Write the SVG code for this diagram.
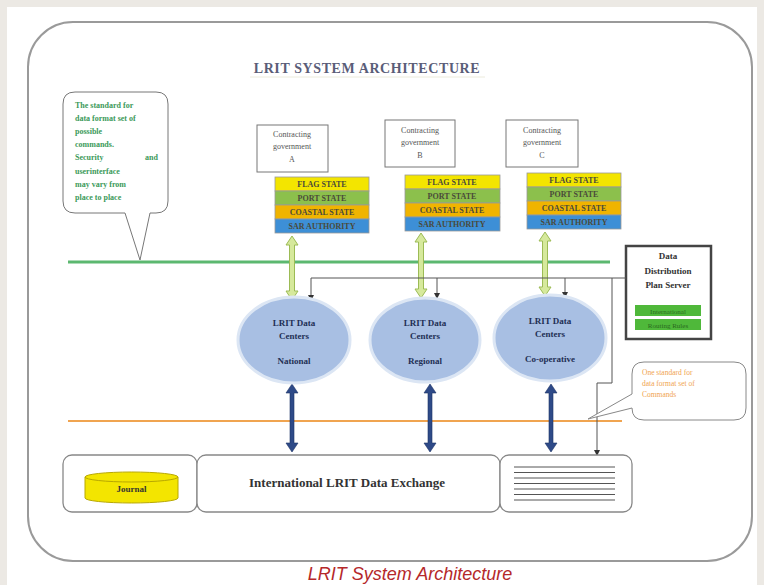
<svg xmlns="http://www.w3.org/2000/svg" width="764" height="585" viewBox="0 0 764 585">
<defs>
<marker id="ah" viewBox="0 0 6 6" refX="5" refY="3" markerWidth="6" markerHeight="6" orient="auto" markerUnits="userSpaceOnUse"><path d="M0,0 L6,3 L0,6 z" fill="#333"/></marker>
</defs>
<style>
.sf{font-family:"Liberation Serif","DejaVu Serif",serif}
.st{font-family:"Liberation Serif","DejaVu Serif",serif;font-size:8px;font-weight:bold;fill:#4a4a3a;text-anchor:middle}
.gov{fill:#fff;stroke:#777;stroke-width:1}
.govt{font-family:"Liberation Serif","DejaVu Serif",serif;font-size:8px;fill:#555;text-anchor:middle}
.row{stroke:#999;stroke-width:0.8}
.ell{fill:#a8bfe3;stroke:#dce6f4;stroke-width:3}
.et{font-family:"Liberation Serif","DejaVu Serif",serif;font-size:9px;font-weight:bold;fill:#1f2f55;text-anchor:middle}
.ga{fill:#d6e99c;stroke:#9cbb55;stroke-width:1}
.na{fill:#2e4a88;stroke:#1d3264;stroke-width:0.6}
.gl{fill:none;stroke:#555;stroke-width:1}
.box{fill:#fff;stroke:#888;stroke-width:1.3}
</style>
<rect width="764" height="585" fill="#ece9e4"/>
<rect x="7" y="7" width="750" height="578" fill="#fff"/>
<rect x="28" y="22" width="724" height="539" rx="45" fill="#fff" stroke="#9a9a9a" stroke-width="2"/>

<g id="title">
<text x="367" y="73" class="sf" font-size="14" font-weight="bold" letter-spacing="0.6" fill="#5a5d78" text-anchor="middle">LRIT SYSTEM ARCHITECTURE</text>
<line x1="250" y1="77" x2="485" y2="77" stroke="#ecebdc" stroke-width="1"/>
</g>

<g id="lines">
<line x1="68" y1="262" x2="610" y2="262" stroke="#5cb870" stroke-width="3"/>
<line x1="68" y1="421" x2="622" y2="421" stroke="#f0a450" stroke-width="2"/>
</g>

<g id="callout-green">
<path d="M75,92 H156 Q168,92 168,104 V201 Q168,213 156,213 H150 L140,260 L125,213 H75 Q63,213 63,201 V104 Q63,92 75,92 Z" fill="#fff" stroke="#777" stroke-width="1"/>
<g class="sf" font-size="8" font-weight="bold" fill="#3c9a5a">
<text x="75" y="108">The standard for</text>
<text x="75" y="121">data format set of</text>
<text x="75" y="134">possible</text>
<text x="75" y="147">commands.</text>
<text x="75" y="160">Security</text><text x="158" y="160" text-anchor="end">and</text>
<text x="75" y="174">userinterface</text>
<text x="75" y="187">may vary from</text>
<text x="75" y="200">place to place</text>
</g>
</g>

<g id="govA">
<rect class="gov" x="257" y="125" width="71" height="47"/>
<text class="govt" x="292" y="137">Contracting</text>
<text class="govt" x="292" y="149">government</text>
<text class="govt" x="292" y="162">A</text>
</g>
<g id="govB">
<rect class="gov" x="385" y="120" width="70" height="47"/>
<text class="govt" x="420" y="133">Contracting</text>
<text class="govt" x="420" y="145">government</text>
<text class="govt" x="420" y="158">B</text>
</g>
<g id="govC">
<rect class="gov" x="506" y="120" width="72" height="47"/>
<text class="govt" x="542" y="133">Contracting</text>
<text class="govt" x="542" y="145">government</text>
<text class="govt" x="542" y="158">C</text>
</g>

<g id="statesA">
<rect class="row" x="275" y="177" width="94" height="14" fill="#f3e500"/>
<rect class="row" x="275" y="191" width="94" height="14" fill="#8cc04c"/>
<rect class="row" x="275" y="205" width="94" height="14" fill="#f0b400"/>
<rect class="row" x="275" y="219" width="94" height="14" fill="#3d8fd6"/>
<text class="st" x="322" y="187">FLAG STATE</text>
<text class="st" x="322" y="201">PORT STATE</text>
<text class="st" x="322" y="215">COASTAL STATE</text>
<text class="st" x="322" y="229">SAR AUTHORITY</text>
</g>
<g id="statesB">
<rect class="row" x="405" y="175" width="95" height="14" fill="#f3e500"/>
<rect class="row" x="405" y="189" width="95" height="14" fill="#8cc04c"/>
<rect class="row" x="405" y="203" width="95" height="14" fill="#f0b400"/>
<rect class="row" x="405" y="217" width="95" height="14" fill="#3d8fd6"/>
<text class="st" x="452" y="185">FLAG STATE</text>
<text class="st" x="452" y="199">PORT STATE</text>
<text class="st" x="452" y="213">COASTAL STATE</text>
<text class="st" x="452" y="227">SAR AUTHORITY</text>
</g>
<g id="statesC">
<rect class="row" x="527" y="173" width="94" height="14" fill="#f3e500"/>
<rect class="row" x="527" y="187" width="94" height="14" fill="#8cc04c"/>
<rect class="row" x="527" y="201" width="94" height="14" fill="#f0b400"/>
<rect class="row" x="527" y="215" width="94" height="14" fill="#3d8fd6"/>
<text class="st" x="574" y="183">FLAG STATE</text>
<text class="st" x="574" y="197">PORT STATE</text>
<text class="st" x="574" y="211">COASTAL STATE</text>
<text class="st" x="574" y="225">SAR AUTHORITY</text>
</g>

<g id="ddps">
<rect x="626" y="246" width="85" height="93" fill="#fff" stroke="#444" stroke-width="2.5"/>
<g class="sf" font-size="9" font-weight="bold" fill="#333" text-anchor="middle">
<text x="668" y="259">Data</text>
<text x="668" y="274">Distribution</text>
<text x="668" y="288">Plan Server</text>
</g>
<rect x="635" y="305" width="66" height="11" fill="#4fb83a"/>
<rect x="635" y="319" width="66" height="11" fill="#4fb83a"/>
<text x="668" y="313.5" class="sf" font-size="7" fill="#2a6a20" text-anchor="middle">International</text>
<text x="668" y="327.5" class="sf" font-size="7" fill="#2a6a20" text-anchor="middle">Routing Rules</text>
</g>

<g id="connectors">
<polygon class="ga" points="292,236 298,245 294.5,245 294.5,291 298,291 292,300 286,291 289.5,291 289.5,245 286,245"/>
<polygon class="ga" points="421,233 427,242 423.5,242 423.5,289 427,289 421,298 415,289 418.5,289 418.5,242 415,242"/>
<polygon class="ga" points="545,232 551,241 547.5,241 547.5,287 551,287 545,296 539,287 542.5,287 542.5,241 539,241"/>
<polygon class="na" points="292,384 298,393 294,393 294,443 298,443 292,452 286,443 290,443 290,393 286,393"/>
<polygon class="na" points="430,384 436,393 432,393 432,443 436,443 430,452 424,443 428,443 428,393 424,393"/>
<polygon class="na" points="551,384 557,393 553,393 553,443 557,443 551,452 545,443 549,443 549,393 545,393"/>
<polyline class="gl" points="626,278 311,278 311,300" marker-end="url(#ah)"/>
<line class="gl" x1="437" y1="278" x2="437" y2="298" marker-end="url(#ah)"/>
<line class="gl" x1="565" y1="278" x2="565" y2="297" marker-end="url(#ah)"/>
<polyline class="gl" points="612,278 612,383 597,383 597,455" marker-end="url(#ah)"/>
</g>

<g id="national">
<ellipse class="ell" cx="294" cy="340" rx="56" ry="43"/>
<text class="et" x="294" y="326">LRIT Data</text>
<text class="et" x="294" y="339">Centers</text>
<text class="et" x="294" y="364">National</text>
</g>
<g id="regional">
<ellipse class="ell" cx="425" cy="340" rx="55" ry="42"/>
<text class="et" x="425" y="326">LRIT Data</text>
<text class="et" x="425" y="339">Centers</text>
<text class="et" x="425" y="364">Regional</text>
</g>
<g id="cooperative">
<ellipse class="ell" cx="550" cy="338" rx="56" ry="43"/>
<text class="et" x="550" y="324">LRIT Data</text>
<text class="et" x="550" y="337">Centers</text>
<text class="et" x="550" y="362">Co-operative</text>
</g>

<g id="callout-orange">
<path d="M644,362 H734 Q746,362 746,374 V408 Q746,420 734,420 H644 Q632,420 632,408 L588,419 L632,394 V374 Q632,362 644,362 Z" fill="#fff" stroke="#888" stroke-width="1"/>
<g class="sf" font-size="7.5" fill="#f0a450">
<text x="642" y="375">One standard for</text>
<text x="642" y="386">data format set of</text>
<text x="642" y="397">Commands</text>
</g>
</g>

<g id="journal">
<rect class="box" x="63" y="455" width="134" height="57" rx="9"/>
<path d="M85,477 V498 A46.5,5 0 0 0 178,498 V477" fill="#f3e500" stroke="#b8a800" stroke-width="1"/>
<ellipse cx="131.5" cy="477" rx="46.5" ry="5" fill="#f3e500" stroke="#b8a800" stroke-width="1"/>
<text x="131.5" y="492" class="sf" font-size="9" font-weight="bold" fill="#333" text-anchor="middle">Journal</text>
</g>
<g id="exchange">
<rect class="box" x="197" y="455" width="303" height="57" rx="9"/>
<text x="347" y="487" class="sf" font-size="13" font-weight="bold" fill="#333" text-anchor="middle">International LRIT Data Exchange</text>
</g>
<g id="records">
<rect class="box" x="500" y="455" width="132" height="57" rx="9"/>
<g stroke="#555" stroke-width="1">
<line x1="514" y1="467" x2="615" y2="467"/>
<line x1="514" y1="472.5" x2="615" y2="472.5"/>
<line x1="514" y1="478" x2="615" y2="478"/>
<line x1="514" y1="483.5" x2="615" y2="483.5"/>
<line x1="514" y1="489" x2="615" y2="489"/>
<line x1="514" y1="494.5" x2="615" y2="494.5"/>
<line x1="514" y1="500" x2="615" y2="500"/>
</g>
</g>

<text x="410" y="580" font-family="Liberation Sans, Arial, sans-serif" font-size="18" font-style="italic" fill="#b5282a" text-anchor="middle">LRIT System Architecture</text>
</svg>
